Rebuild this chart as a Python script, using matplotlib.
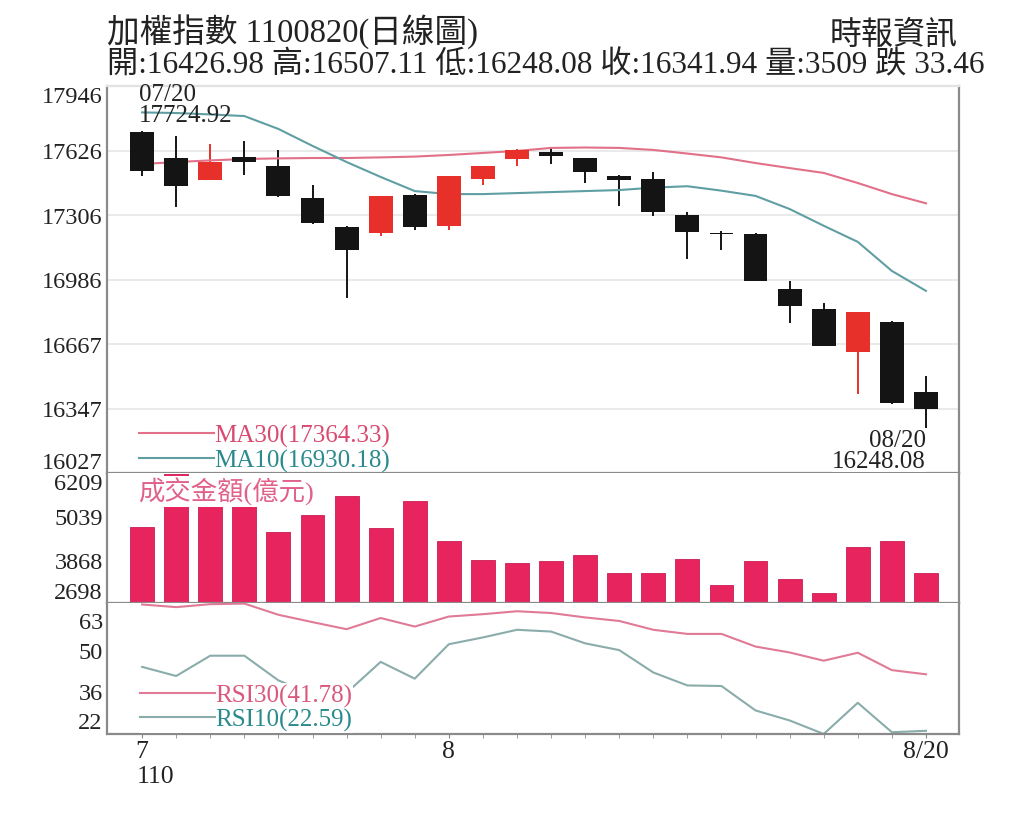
import numpy as np
import matplotlib
matplotlib.use("Agg")
import matplotlib.pyplot as plt

plt.rcParams['font.family'] = ['Liberation Serif', 'Noto Sans CJK TC']

# trading days 7/20 .. 8/20 (ROC year 110)
dates = ['07/20', '07/21', '07/22', '07/23', '07/26', '07/27', '07/28', '07/29', '07/30',
         '08/02', '08/03', '08/04', '08/05', '08/06', '08/09', '08/10', '08/11', '08/12',
         '08/13', '08/16', '08/17', '08/18', '08/19', '08/20']
opens = [17718, 17588, 17481, 17595, 17548, 17391, 17247, 17216, 17407, 17253, 17485, 17584,
         17621, 17588, 17501, 17485, 17306, 17217, 17212, 16940, 16840, 16629, 16774, 16426.98]
highs = [17724.92, 17700, 17658, 17672, 17630, 17455, 17250, 17402, 17410, 17500, 17550, 17632,
         17637, 17590, 17503, 17518, 17323, 17229, 17215, 16981, 16870, 16826, 16780, 16507.11]
lows = [17501, 17348, 17478, 17505, 17395, 17262, 16895, 17204, 17234, 17234, 17455, 17551,
        17559, 17465, 17350, 17300, 17088, 17134, 16978, 16771, 16655, 16419, 16370, 16248.08]
closes = [17523, 17452, 17571, 17571, 17399, 17267, 17133, 17399, 17246, 17498, 17548, 17629,
          17601, 17521, 17481, 17320, 17221, 17211, 16981, 16854, 16658, 16824, 16375.40, 16341.94]
ma10 = [17815, 17812, 17805, 17797, 17733, 17649, 17569, 17495, 17425, 17410, 17410, 17415,
        17420, 17425, 17430, 17442, 17449, 17427, 17401, 17336, 17253, 17173, 17029, 16930.18]
ma30 = [17559, 17569, 17577, 17584, 17587, 17589, 17589, 17592, 17596, 17604, 17614, 17624,
        17639, 17641, 17639, 17629, 17611, 17592, 17564, 17539, 17515, 17465, 17410, 17364.33]
volume = [4742, 6180, 6000, 5950, 4607, 5074, 5595, 4723, 5444, 4380, 3867, 3770,
          3824, 3994, 3500, 3516, 3894, 3192, 3840, 3338, 2968, 4202, 4364, 3509]
rsi30 = [65.5, 64.6, 65.6, 65.8, 62.0, 59.5, 57.1, 60.9, 58.0, 61.4, 62.2, 63.2,
         62.6, 61.1, 59.9, 56.9, 55.5, 55.5, 51.2, 49.2, 46.4, 49.1, 43.2, 41.78]
rsi10 = [44.3, 41.2, 48.1, 48.1, 39.7, 35.0, 35.5, 46.0, 40.3, 52.0, 54.3, 56.9,
         56.3, 52.3, 50.0, 42.4, 38.0, 37.8, 29.5, 26.1, 21.5, 32.1, 22.1, 22.59]

price_ticks = [16027, 16347, 16667, 16986, 17306, 17626, 17946]
vol_ticks = [2698, 3868, 5039, 6209]
rsi_ticks = [22, 36, 50, 63]

UP = '#e8302a'
DOWN = '#141414'
VOL = '#e8245f'
MA30_C = '#e27088'
MA10_C = '#5f9fa3'
SPINE = '#8a8a8a'
TXT = '#222222'
FS = 17.5  # small text size

x = np.arange(len(dates))
o, h, l, c = map(np.array, (opens, highs, lows, closes))

fig = plt.figure(figsize=(10.24, 8.2), dpi=100)
L, W = 107 / 1024, 852 / 1024
ax1 = fig.add_axes([L, 1 - 474 / 820, W, 387 / 820])
ax2 = fig.add_axes([L, 1 - 604 / 820, W, 130 / 820])
ax3 = fig.add_axes([L, 1 - 735 / 820, W, 131 / 820])

# --- price panel
colors = np.where(c >= o, UP, DOWN)
ax1.vlines(x, l, h, colors=colors, lw=1.4, zorder=2)
ax1.bar(x, np.maximum(np.abs(c - o), 7), bottom=np.minimum(o, c), width=0.7,
        color=colors, zorder=3)
l30, = ax1.plot(x, ma30, color=MA30_C, lw=1.5, zorder=2)
l10, = ax1.plot(x, ma10, color=MA10_C, lw=1.5, zorder=2)
ax1.set_ylim(16027, 17946)
ax1.set_yticks(np.linspace(16027, 17946, 7))
ax1.set_yticklabels([str(t) for t in price_ticks])
ax1.grid(axis='y', color='#e6e6e6', lw=1.2, zorder=0)
ax1.legend([l30, l10], ['MA30(17364.33)', 'MA10(16930.18)'], loc='lower left',
           bbox_to_anchor=(0.036, 0.0), frameon=False, handlelength=3.0,
           handletextpad=0.0, labelspacing=0.05, borderpad=0, borderaxespad=0.05,
           fontsize=18, labelcolor=['#d94a70', '#2a8a8c'])
ax1.annotate('07/20\n17724.92', xy=(0, highs[0]), xytext=(-3, 5), textcoords='offset pixels',
             ha='left', va='bottom', fontsize=18, color=TXT, linespacing=0.92)
ax1.annotate('08/20\n16248.08', xy=(x[-1], lows[-1]), xytext=(0, -1), textcoords='offset pixels',
             ha='right', va='top', fontsize=18, color=TXT, linespacing=0.92, zorder=10,
             annotation_clip=False,
             bbox=dict(facecolor='white', edgecolor='none', pad=0))

# --- volume panel
ax2.bar(x, volume, width=0.7, color=VOL, edgecolor='#c91c52', lw=0.6, zorder=2)
ax2.set_ylim(2698, 6209)
ax2.set_yticks(vol_ticks)
ax2.set_yticklabels([str(t) for t in vol_ticks])
ax2.text(0.036, 0.86, '成交金額(億元)', transform=ax2.transAxes, fontsize=19,
         color='#e0628a', ha='left', va='center', zorder=5,
         bbox=dict(facecolor='white', edgecolor='none', pad=1))

# --- RSI panel
r30, = ax3.plot(x, rsi30, color='#e07a96', lw=1.5)
r10, = ax3.plot(x, rsi10, color='#8aacaa', lw=1.5)
ax3.set_ylim(21.5, 66)
ax3.set_yticks(rsi_ticks)
ax3.set_yticklabels([str(t) for t in rsi_ticks])
ax3.legend([r30, r10], ['RSI30(41.78)', 'RSI10(22.59)'], loc='lower left',
           bbox_to_anchor=(0.036, 0.0), frameon=True, facecolor='white',
           edgecolor='none', framealpha=1, fancybox=False, handlelength=3.0,
           handletextpad=0.0, labelspacing=0.05, borderpad=0.05, borderaxespad=0.05,
           fontsize=18, labelcolor=['#d9587c', '#2a8a8c'])
ax3.set_xticks([0, 9, 23])
ax3.set_xticklabels(['7', '8', '8/20'])
ax3.set_xticks(x, minor=True)
ax3.tick_params(axis='x', which='both', length=3, color='#888888', labelsize=18.5,
                labelcolor=TXT, pad=1)
ax3.annotate('110', xy=(0, 0), xycoords=('data', 'axes fraction'), xytext=(-5, -42),
             textcoords='offset pixels', ha='left', va='center', fontsize=18.5, color=TXT)

for ax in (ax1, ax2, ax3):
    ax.set_xlim(-1.03, 23.97)
    ax.tick_params(axis='y', length=0, labelsize=FS, labelcolor=TXT, pad=3)
    for s in ax.spines.values():
        s.set_color(SPINE)
        s.set_linewidth(1.6)
    labs = ax.get_yticklabels()
    labs[0].set_verticalalignment('bottom')
    labs[-1].set_verticalalignment('top')
for ax in (ax1, ax2):
    ax.tick_params(axis='x', which='both', bottom=False, labelbottom=False)
ax1.spines['top'].set_color('#e2e2e2')
ax2.spines['top'].set_visible(False)
ax3.spines['top'].set_visible(False)

# --- header
fig.text(107 / 1024, 1 - 32 / 820, '加權指數 1100820(日線圖)', fontsize=23.5,
         ha='left', va='center', color=TXT)
fig.text(107 / 1024, 1 - 66 / 820,
         '開:16426.98 高:16507.11 低:16248.08 收:16341.94 量:3509 跌 33.46',
         fontsize=22.5, ha='left', va='center', color=TXT)
fig.text(958 / 1024, 1 - 36 / 820, '時報資訊', fontsize=23, ha='right', va='center',
         color=TXT)

fig.savefig('out.png', dpi=100, facecolor='white')
